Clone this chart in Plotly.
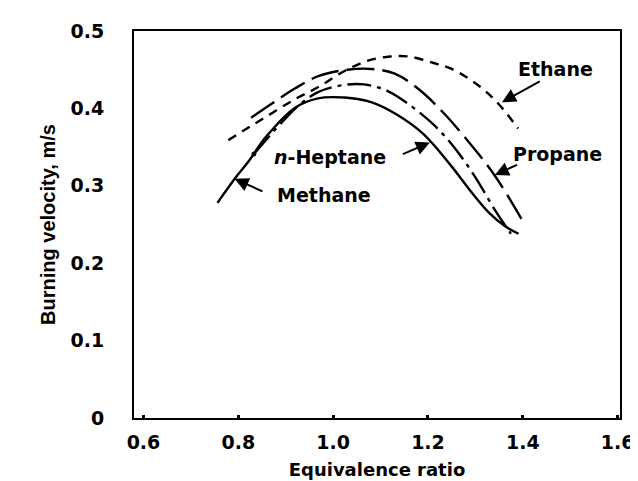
import plotly.graph_objects as go

# curves (equivalence ratio, burning velocity m/s)
methane_x = [0.756, 0.796, 0.821, 0.858, 0.920, 0.968, 1.024, 1.080, 1.134, 1.190, 1.246, 1.294, 1.329, 1.362, 1.391]
methane_y = [0.278, 0.312, 0.331, 0.363, 0.401, 0.413, 0.414, 0.408, 0.392, 0.367, 0.328, 0.290, 0.265, 0.248, 0.238]

heptane_x = [0.833, 0.880, 0.926, 0.968, 1.020, 1.065, 1.113, 1.169, 1.217, 1.260, 1.300, 1.340, 1.375]
heptane_y = [0.341, 0.374, 0.403, 0.421, 0.430, 0.431, 0.423, 0.401, 0.376, 0.346, 0.311, 0.270, 0.238]

propane_x = [0.827, 0.875, 0.920, 0.970, 1.030, 1.080, 1.130, 1.180, 1.230, 1.280, 1.339, 1.404]
propane_y = [0.388, 0.408, 0.426, 0.442, 0.450, 0.451, 0.445, 0.425, 0.396, 0.361, 0.315, 0.250]

ethane_x = [0.779, 0.850, 0.920, 0.970, 1.020, 1.070, 1.120, 1.160, 1.210, 1.250, 1.310, 1.350, 1.390]
ethane_y = [0.359, 0.386, 0.412, 0.428, 0.447, 0.461, 0.467, 0.467, 0.459, 0.451, 0.428, 0.405, 0.374]

x_ticks = [0.6, 0.8, 1.0, 1.2, 1.4, 1.6]
y_ticks = [0, 0.1, 0.2, 0.3, 0.4, 0.5]
y_ticktext = ["0", "0.1", "0.2", "0.3", "0.4", "0.5"]

fig = go.Figure()

line_kw = dict(color="black", width=2.4, shape="spline", smoothing=1)
fig.add_trace(go.Scatter(x=methane_x, y=methane_y, mode="lines", name="Methane",
                         line=dict(**line_kw)))
fig.add_trace(go.Scatter(x=heptane_x, y=heptane_y, mode="lines", name="n-Heptane",
                         line=dict(dash="24px,6px,4px,6px", **line_kw)))
fig.add_trace(go.Scatter(x=propane_x, y=propane_y, mode="lines", name="Propane",
                         line=dict(dash="28px,8px", **line_kw)))
fig.add_trace(go.Scatter(x=ethane_x, y=ethane_y, mode="lines", name="Ethane",
                         line=dict(dash="9px,7px", **line_kw)))

lab_font = dict(family="DejaVu Sans", size=19, color="black")

# labels
labels = [
    ("<b>Ethane</b>", 1.468, 0.451),
    ("<b>Propane</b>", 1.474, 0.341),
    ("<b><i>n</i>-Heptane</b>", 0.993, 0.337),
    ("<b>Methane</b>", 0.980, 0.288),
]
for txt, lx, ly in labels:
    fig.add_annotation(x=lx, y=ly, text=txt, showarrow=False, font=lab_font)

# arrows (tail -> head)
arrows = [
    (1.439, 0.436, 1.356, 0.408),
    (1.391, 0.328, 1.341, 0.314),
    (1.144, 0.340, 1.204, 0.356),
    (0.854, 0.292, 0.792, 0.309),
]
for tx, ty, hx, hy in arrows:
    fig.add_annotation(x=hx, y=hy, ax=tx, ay=ty, xref="x", yref="y", axref="x", ayref="y",
                       text="", showarrow=True, arrowhead=2, arrowsize=1.4, arrowwidth=2,
                       arrowcolor="black")

# heptane dot next to its label
fig.add_trace(go.Scatter(x=[0.833], y=[0.341], mode="markers",
                         marker=dict(color="black", size=5), showlegend=False))

fig.update_layout(
    width=638, height=481,
    margin=dict(l=126, r=18, t=23, b=68),
    plot_bgcolor="white", paper_bgcolor="white",
    showlegend=False,
    font=dict(family="DejaVu Sans", color="black"),
)
fig.update_xaxes(
    range=[0.58, 1.605], tickvals=x_ticks, ticktext=[f"<b>{v:.1f}</b>" for v in x_ticks],
    showgrid=False, zeroline=False, showline=True, linecolor="black", linewidth=2, mirror=True,
    ticks="inside", ticklen=3, tickwidth=3, tickcolor="black",
    tickfont=dict(family="DejaVu Sans", size=19), ticklabelstandoff=6,
    title=dict(text="<b>Equivalence ratio</b>", font=dict(family="DejaVu Sans", size=18), standoff=12),
)
fig.update_yaxes(
    range=[0, 0.5], tickvals=y_ticks, ticktext=[f"<b>{t}</b>" for t in y_ticktext],
    showgrid=False, zeroline=False, showline=True, linecolor="black", linewidth=2, mirror=True,
    ticks="", tickfont=dict(family="DejaVu Sans", size=19), ticklabelstandoff=24,
    title=dict(text="<b>Burning velocity, m/s</b>", font=dict(family="Liberation Sans", size=20), standoff=10),
)

fig.write_html("out.html")
